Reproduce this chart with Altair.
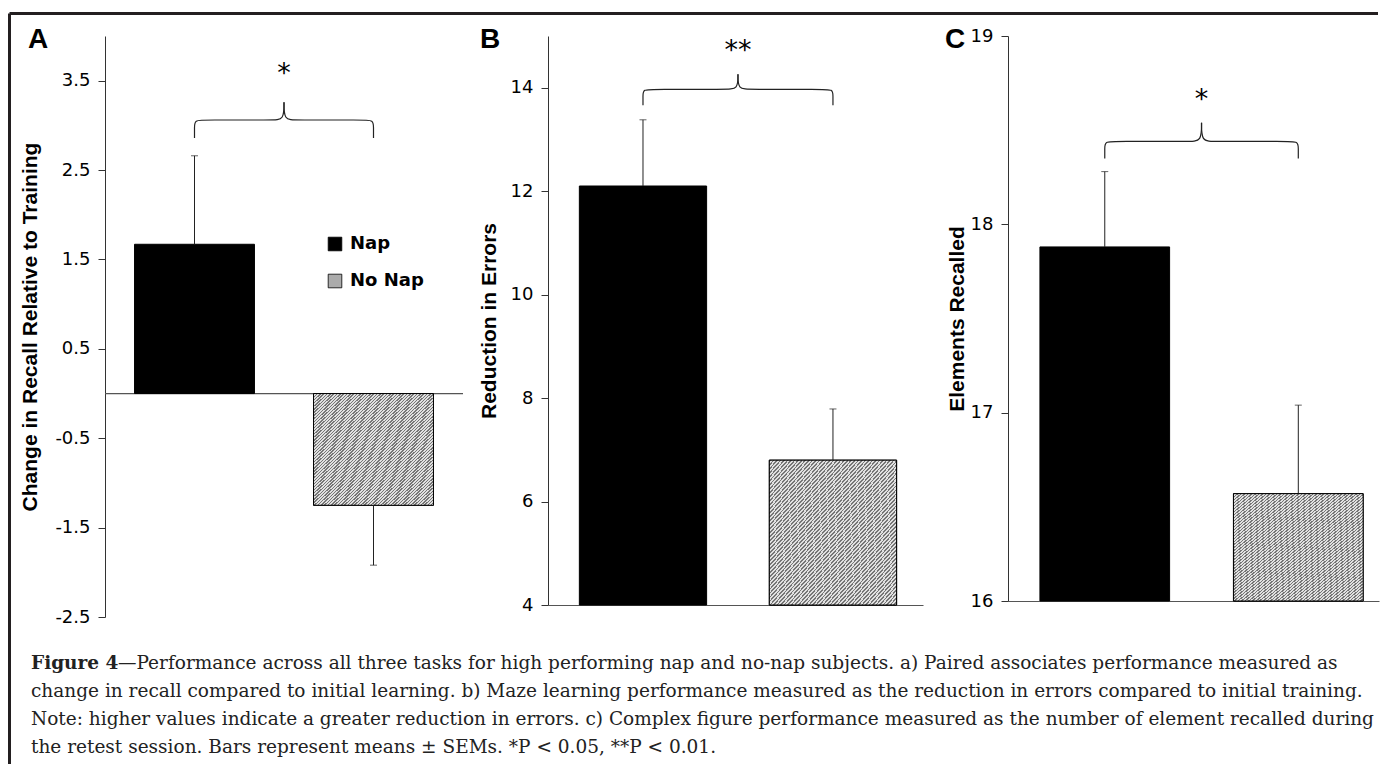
import altair as alt
import pandas as pd

# ---------------- data ----------------
groups = ["Nap", "No Nap"]
group_pos = [0, 1]

a_mean = [1.67, -1.25]
a_sem = [0.99, 0.67]
b_mean = [12.1, 6.8]
b_sem = [1.28, 0.99]
c_mean = [17.88, 16.57]
c_sem = [0.40, 0.47]

a_ticks = [-2.5, -1.5, -0.5, 0.5, 1.5, 2.5, 3.5]
b_ticks = [4, 6, 8, 10, 12, 14]
c_ticks = [16, 17, 18, 19]

a_domain = [-2.5, 4.0]
b_domain = [4, 15]
c_domain = [16, 19]

# significance brace levels: end, horizontal, peak (data units)
a_brace = [2.86, 3.06, 3.26]
b_brace = [13.66, 13.97, 14.26]
c_brace = [18.35, 18.44, 18.54]

stars = ["*", "**", "*"]
star_y = [3.48, 14.56, 18.62]

panel_letters = ["A", "B", "C"]
y_titles = ["Change in Recall Relative to Training", "Reduction in Errors", "Elements Recalled"]

caption_bold = "Figure 4"
caption_first = ("\u2014Performance across all three tasks for high performing nap and no-nap subjects. "
                 "a) Paired associates performance measured as")
caption_rest = [
    "change in recall compared to initial learning. b) Maze learning performance measured as the reduction in errors compared to initial training.",
    "Note: higher values indicate a greater reduction in errors. c) Complex figure performance measured as the number of element recalled during",
    "the retest session. Bars represent means \u00b1 SEMs. *P < 0.05, **P < 0.01.",
]

# ---------------- styling ----------------
HALF = 0.335
AXIS_COLOR = "#333333"
LINE_COLOR = "#222222"
DARK, LIGHT = "#767676", "#e0e0e0"
N_STRIPES = 72
stops = []
for k in range(N_STRIPES):
    a0 = round(k / N_STRIPES, 5)
    a1 = round((k + 0.45) / N_STRIPES, 5)
    a2 = round((k + 1) / N_STRIPES, 5)
    stops += [{"offset": a0, "color": DARK}, {"offset": a1, "color": DARK},
              {"offset": a1, "color": LIGHT}, {"offset": a2, "color": LIGHT}]
HATCH = {"gradient": "linear", "x1": 0, "y1": 0, "x2": 1, "y2": 1, "stops": stops}

one_row = pd.DataFrame({"k": [0]})


def bar_frame(means, sems, base):
    rows = []
    for g, p, m, s in zip(groups, group_pos, means, sems):
        end = m + s if m >= 0 else m - s
        rows.append(dict(group=g, pos=p, x0=p - HALF, x1=p + HALF, mean=m, base=base, err_end=end))
    return pd.DataFrame(rows)


def brace_frame(levels):
    end, mid, peak = levels
    lift = end + 0.6 * (mid - end)
    left = [(0, end), (0, lift), (0, mid), (0.06, mid), (0.44, mid), (0.5, mid), (0.5, peak)]
    rows = []
    for i, (x, y) in enumerate(left):
        rows.append(dict(side="L", order=i, bx=x, by=y))
        rows.append(dict(side="R", order=i, bx=1 - x, by=y))
    return pd.DataFrame(rows)


def panel(idx, means, sems, ydom, yticks, brace, width, height, xdom, title_x,
          letter_dx, label_expr, show_x_axis, zero_line=False, legend=False, extras=None):
    base = 0 if zero_line else ydom[0]
    df = bar_frame(means, sems, base)
    xscale = alt.Scale(domain=xdom, nice=False, zero=False)
    yscale = alt.Scale(domain=ydom, nice=False, zero=False)
    if show_x_axis:
        xaxis = alt.Axis(domain=True, domainColor="#555555", domainWidth=1.2, ticks=False,
                         labels=False, title=None, grid=False)
    else:
        xaxis = None
    yaxis = alt.Axis(values=yticks, title=y_titles[idx], titleX=title_x, titleBaseline="alphabetic",
                     titleAngle=270, titleFont="Liberation Sans", titleFontSize=21,
                     titleFontWeight="bold", titleColor="black", labelFont="DejaVu Sans",
                     labelFontSize=18, labelColor="black", labelPadding=8, tickSize=7,
                     tickColor=AXIS_COLOR, domainColor=AXIS_COLOR, domainWidth=1, tickWidth=1,
                     grid=False, labelFlush=False, labelOverlap=False, labelBound=False,
                     labelExpr=label_expr)

    def X(f):
        return alt.X(f, scale=xscale, axis=xaxis)

    def Y(f):
        return alt.Y(f, scale=yscale, axis=yaxis)

    fill_legend = None
    if legend:
        fill_legend = alt.Legend(orient="none", legendX=221, legendY=199, title=None,
                                 symbolType="square", symbolSize=185, symbolStrokeColor="black",
                                 symbolStrokeWidth=0.8, labelFont="DejaVu Sans", labelFontSize=18,
                                 labelFontWeight="bold", labelColor="black", labelOffset=6,
                                 rowPadding=19, padding=0)

    bars = alt.Chart(df).mark_bar(stroke="black", strokeWidth=1).encode(
        x=X("x0:Q"), x2="x1", y=Y("mean:Q"), y2="base",
        fill=alt.Fill("group:N", scale=alt.Scale(domain=groups, range=["#000000", "#ababab"]),
                      legend=fill_legend),
    )
    hatch = alt.Chart(df).transform_filter("datum.group == 'No Nap'").mark_bar(
        fill=HATCH, stroke="black", strokeWidth=1).encode(
        x=X("x0:Q"), x2="x1", y=Y("mean:Q"), y2="base")
    err = alt.Chart(df).mark_rule(color=LINE_COLOR, strokeWidth=1).encode(
        x=X("pos:Q"), y=Y("mean:Q"), y2="err_end")
    cap = alt.Chart(df).mark_tick(orient="horizontal", size=7, thickness=1, color=LINE_COLOR).encode(
        x=X("pos:Q"), y=Y("err_end:Q"))
    br = alt.Chart(brace_frame(brace)).mark_line(interpolate="basis", color=LINE_COLOR,
                                                 strokeWidth=1.2).encode(
        x=X("bx:Q"), y=Y("by:Q"), detail="side:N", order="order:Q")
    st = alt.Chart(pd.DataFrame({"sx": [0.5], "sy": [star_y[idx]], "lab": [stars[idx]]})).mark_text(
        font="DejaVu Sans", fontSize=27, baseline="alphabetic", align="center", color="black").encode(
        x=X("sx:Q"), y=Y("sy:Q"), text="lab:N")
    letter = alt.Chart(one_row).mark_text(
        font="Liberation Sans", fontSize=28, fontWeight="bold", align="left",
        baseline="alphabetic", color="black", text=panel_letters[idx]).encode(
        x=alt.value(letter_dx), y=alt.value(12))

    layers = []
    if zero_line:
        zl = alt.Chart(pd.DataFrame({"zero": [0]})).mark_rule(color="#555555", strokeWidth=1.2).encode(
            y=Y("zero:Q"))
        layers.append(zl)
    layers += [bars, hatch, err, cap, br, st, letter]
    if extras:
        layers += extras
    return alt.layer(*layers).properties(width=width, height=height)


# frame and caption (decoration, placed relative to panel A's plot origin)
CAP_SIZE = 18.5
frame_left = alt.Chart(one_row).mark_rule(color="#231f20", strokeWidth=3).encode(
    x=alt.value(-95.5), x2=alt.value(-95.5), y=alt.value(-22.5), y2=alt.value(728))
frame_top = alt.Chart(one_row).mark_rule(color="#231f20", strokeWidth=3).encode(
    x=alt.value(-95.5), x2=alt.value(1273), y=alt.value(-22.5), y2=alt.value(-22.5))
cap_bold = alt.Chart(one_row).mark_text(
    font="DejaVu Serif", fontSize=CAP_SIZE, fontWeight="bold", align="left", baseline="alphabetic",
    color="#222222", text=caption_bold).encode(x=alt.value(-74), y=alt.value(633))
cap_first = alt.Chart(one_row).mark_text(
    font="DejaVu Serif", fontSize=CAP_SIZE, align="left", baseline="alphabetic",
    color="#222222", text=caption_first).encode(x=alt.value(13), y=alt.value(633))
cap_rest = alt.Chart(one_row).mark_text(
    font="DejaVu Serif", fontSize=CAP_SIZE, align="left", baseline="alphabetic", lineHeight=28,
    color="#222222", text=caption_rest).encode(x=alt.value(-74), y=alt.value(661))

label_a = "datum.value < 0 ? '-' + format(-datum.value, '.1f') : format(datum.value, '.1f')"
label_int = "format(datum.value, 'd')"

pa = panel(0, a_mean, a_sem, a_domain, a_ticks, a_brace, 358, 581, [-0.5, 1.5], -69, -77,
           label_a, False, zero_line=True, legend=True,
           extras=[frame_left, frame_top, cap_bold, cap_first, cap_rest])
pb = panel(1, b_mean, b_sem, b_domain, b_ticks, b_brace, 375, 569, [-0.5, 1.474], -53, -68,
           label_int, True)
pc = panel(2, c_mean, c_sem, c_domain, c_ticks, c_brace, 371, 565, [-0.5, 1.417], -45, -63,
           label_int, True)

chart = alt.hconcat(pa, pb, pc, spacing=85, bounds="flush", background="white",
                    padding={"left": 0, "top": 4, "right": 0, "bottom": 0}).resolve_scale(
    fill="independent").resolve_legend(fill="independent").configure_view(
    strokeWidth=0, stroke="transparent")

chart.save("out.html", embed_options={"renderer": "svg", "actions": False})
